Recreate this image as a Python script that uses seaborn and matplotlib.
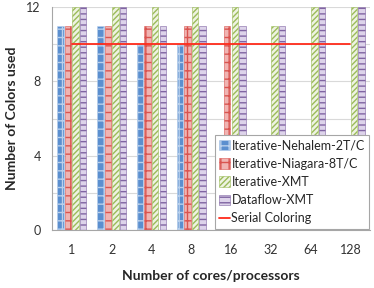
import numpy as np
import pandas as pd
import matplotlib
matplotlib.use("Agg")
import matplotlib.pyplot as plt
import seaborn as sns
from matplotlib.patches import Patch
from matplotlib.lines import Line2D

cores = ["1", "2", "4", "8", "16", "32", "64", "128"]
nehalem = [11, 11, 10, 10, np.nan, np.nan, np.nan, np.nan]
niagara = [11, 11, 11, 11, 11, np.nan, np.nan, np.nan]
iter_xmt = [12, 12, 12, 12, 12, 11, 12, 12]
dataflow_xmt = [12, 12, 11, 11, 11, 11, 12, 12]
serial = [10, 10, 10, 10, 10, 10, 10, 10]

series = ["Iterative-Nehalem-2T/C", "Iterative-Niagara-8T/C",
          "Iterative-XMT", "Dataflow-XMT"]
styles = {
    "Iterative-Nehalem-2T/C": ("#5B8FCF", "#B9D0EC", "++"),
    "Iterative-Niagara-8T/C": ("#F0B4B2", "#D95450", "++"),
    "Iterative-XMT": ("#EEF3E2", "#9BBB59", "//////"),
    "Dataflow-XMT": ("#DDD3EA", "#8064A2", "---"),
}

df = pd.DataFrame({
    "cores": cores * 4,
    "series": np.repeat(series, len(cores)),
    "colors": nehalem + niagara + iter_xmt + dataflow_xmt,
})

sns.set_style("white")
plt.rcParams["font.family"] = ["Lato", "DejaVu Sans"]
plt.rcParams["hatch.linewidth"] = 1.0

fig = plt.figure(figsize=(3.74, 2.88), dpi=100)
ax = fig.add_axes([0.139, 0.201, 0.851, 0.775])

sns.barplot(data=df, x="cores", y="colors", hue="series", order=cores,
            hue_order=series, errorbar=None, width=0.76, gap=0.14,
            ax=ax, legend=False)

for cont, name in zip(ax.containers, series):
    face, edge, hatch = styles[name]
    for bar in cont:
        bar.set_facecolor(face)
        bar.set_edgecolor(edge)
        bar.set_hatch(hatch)
        bar.set_linewidth(0.4)

ax.plot(range(len(cores)), serial, color="#FF2A1A", lw=1.3, zorder=5)

ax.set_ylim(0, 12)
ax.set_xlim(-0.5, len(cores) - 0.5)
ax.set_yticks([0, 4, 8, 12])
ax.set_yticks([2, 6, 10], minor=True)
ax.grid(axis="y", which="both", color="#D9D9D9", lw=0.8)
ax.set_axisbelow(True)
for s in ["top", "right"]:
    ax.spines[s].set_visible(False)
ax.spines["left"].set_color("#A6A6A6")
ax.spines["bottom"].set_color("#A6A6A6")
ax.tick_params(axis="both", which="both", length=0, labelsize=9, colors="#333333")
ax.tick_params(axis="x", pad=10)
ax.tick_params(axis="y", pad=8)

ax.set_xlabel("Number of cores/processors", fontsize=10, fontweight="bold", labelpad=10)
ax.set_ylabel("Number of Colors used", fontsize=10, fontweight="bold", labelpad=6)

handles = [Patch(facecolor=styles[n][0], edgecolor=styles[n][1], hatch=styles[n][2], lw=0.4)
           for n in series]
handles.append(Line2D([0], [0], color="#FF2A1A", lw=1.3))
leg = ax.legend(handles, series + ["Serial Coloring"], loc="lower right",
                bbox_to_anchor=(1.0, 0.0), fontsize=9, frameon=True, fancybox=False,
                handlelength=0.9, handleheight=0.9, handletextpad=0.1,
                labelspacing=0.5, borderpad=0.35, borderaxespad=0.1)
leg.get_frame().set_edgecolor("#A6A6A6")
leg.get_frame().set_linewidth(0.8)
leg.get_frame().set_facecolor("white")
leg.get_frame().set_alpha(1.0)

fig.savefig("out.png", dpi=100)
